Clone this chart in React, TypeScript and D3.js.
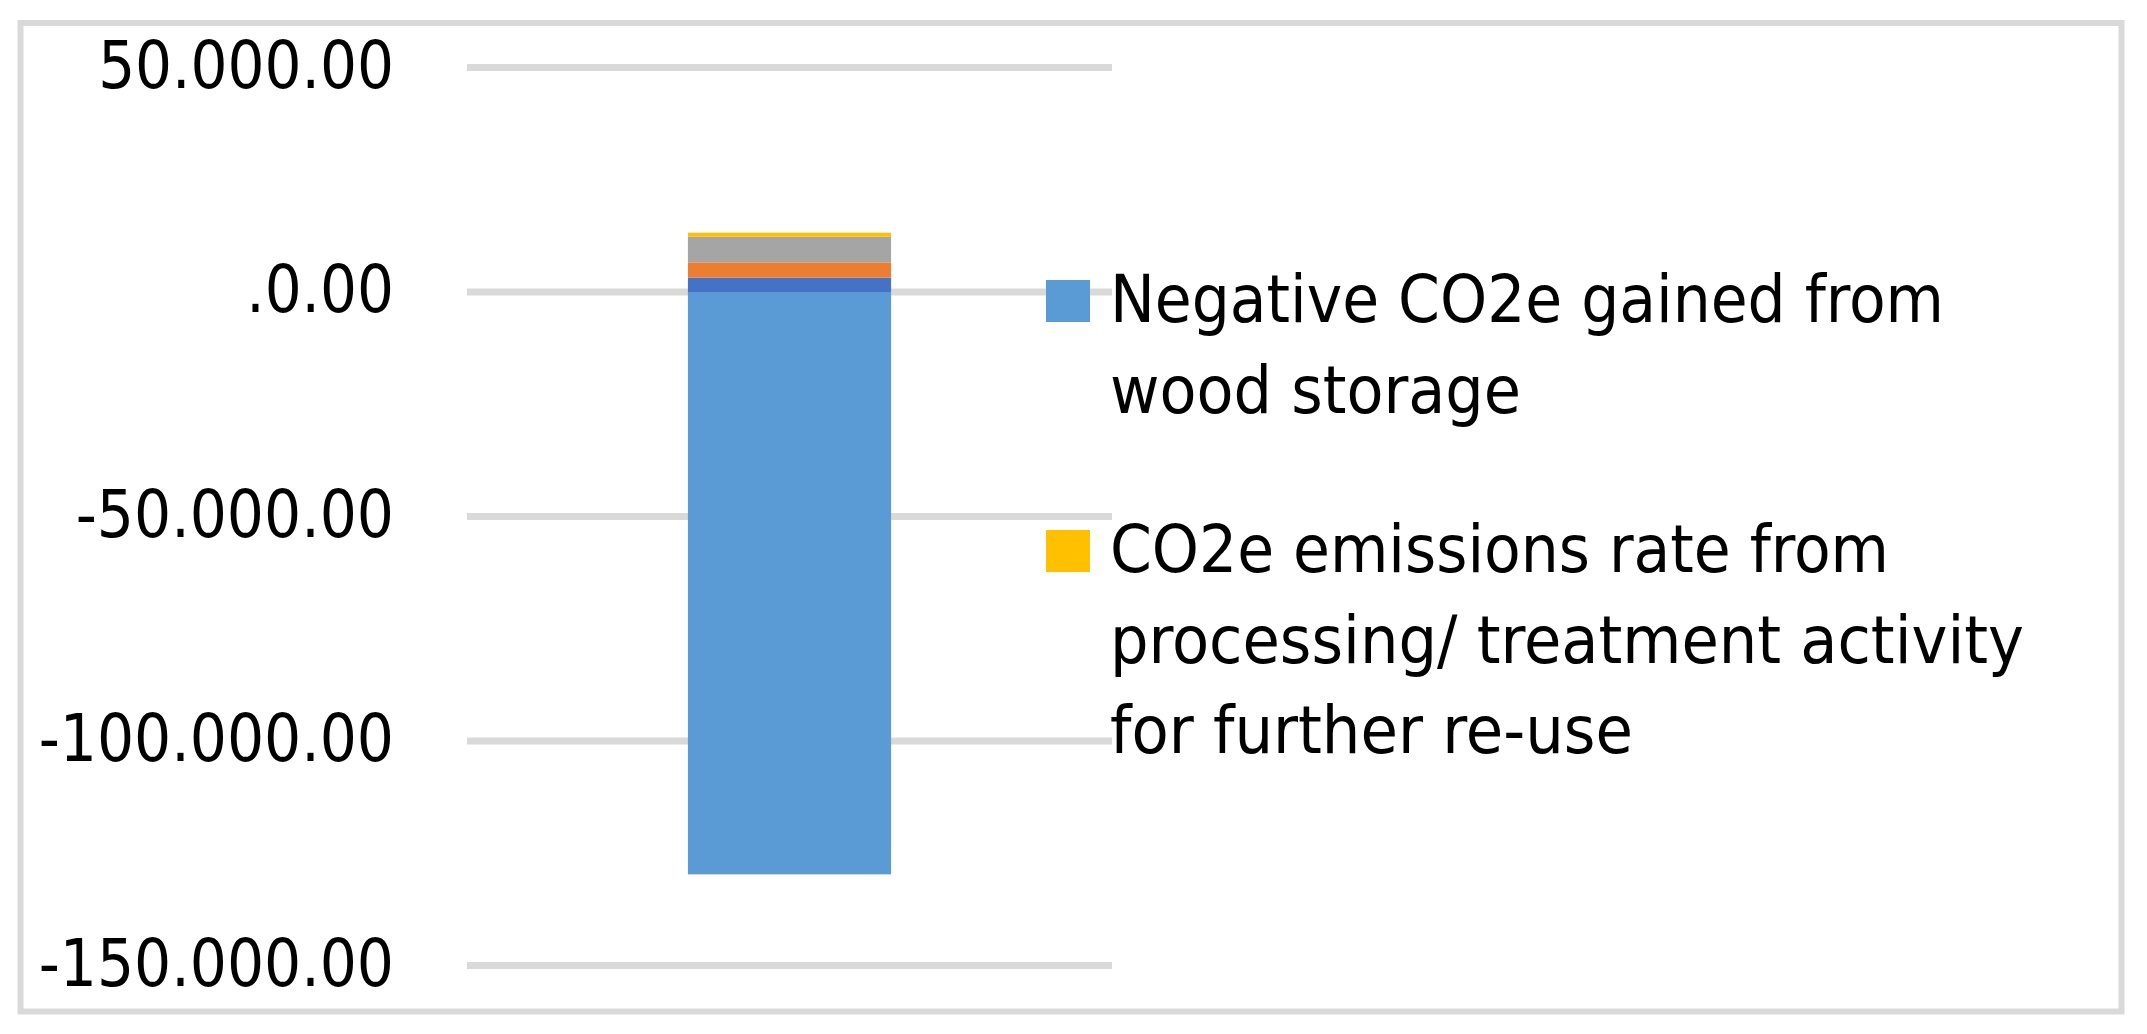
import React from "react";
import * as d3 from "d3";

// ---- data ----
const categories = ["Total"];
const seriesNames = [
  "Negative CO2e gained from wood storage",
  "Series 2",
  "Series 3",
  "Series 4",
  "CO2e emissions rate from processing/ treatment activity for further re-use",
];
const seriesValues = [-129700, 3200, 3400, 5700, 900];
const seriesColors = ["#5B9BD5", "#4472C4", "#ED7D31", "#A5A5A5", "#FFC000"];
const tickValues = [50000, 0, -50000, -100000, -150000];
const tickLabels = ["50.000.00", ".0.00", "-50.000.00", "-100.000.00", "-150.000.00"];
const legendItems = [
  { series: 0, lines: ["Negative CO2e gained from", "wood storage"] },
  { series: 4, lines: ["CO2e emissions rate from", "processing/ treatment activity", "for further re-use"] },
];

// ---- layout ----
const W = 2147;
const H = 1034;
const FONT = "'Liberation Sans Narrow', 'DejaVu Sans Condensed', 'Liberation Sans', sans-serif";
const FS = 66;
const legendWidths = [[834, 411], [779, 914, 523]];
const legendTop = [280, 530];
const lineGap = 90.5;

function calibriWidth(s: string, fs: number) {
  let w = 0;
  for (const c of s) {
    if (c >= "0" && c <= "9") w += 0.507;
    else if (c === ".") w += 0.252;
    else if (c === "-") w += 0.306;
    else w += 0.5;
  }
  return w * fs * 1.0 * 73 / fs;
}

export default function App() {
  const y = d3.scaleLinear().domain([-150000, 50000]).range([965.5, 67.5]);
  const x = d3.scaleBand().domain(categories).range([467, 1112]).paddingInner(0.685).paddingOuter(0.3425);

  // stack: positives up from 0, negatives down from 0
  let pos = 0;
  let neg = 0;
  const segs = seriesValues.map((v, i) => {
    let y0, y1;
    if (v >= 0) {
      y0 = pos;
      y1 = pos + v;
      pos = y1;
    } else {
      y0 = neg;
      y1 = neg + v;
      neg = y1;
    }
    return { i, y0, y1 };
  });

  const bx = 688;
  const bw = 203;
  const xb = x(categories[0]) ?? bx;
  const bandW = x.bandwidth();

  return (
    <svg width={W} height={H} style={{ position: "absolute", left: 0, top: 0, background: "#fff" }}>
      <rect x={0} y={0} width={W} height={H} fill="#fff" />
      {/* outer border */}
      <rect x={20.5} y={23} width={2101} height={988.5} fill="none" stroke="#d9d9d9" strokeWidth={6} />
      {/* gridlines */}
      {tickValues.map((t, i) => (
        <line key={"g" + i} x1={467} x2={1112} y1={y(t)} y2={y(t)} stroke="#d9d9d9" strokeWidth={7} />
      ))}
      {/* tick labels */}
      {tickValues.map((t, i) => (
        <text
          key={"t" + i}
          x={394}
          y={y(t) + 20}
          textAnchor="end"
          fontFamily={FONT}
          fontSize={FS}
          fill="#000"
          textLength={calibriWidth(tickLabels[i], FS)}
          lengthAdjust="spacingAndGlyphs"
        >
          {tickLabels[i]}
        </text>
      ))}
      {/* bars */}
      {segs.map((s) => (
        <rect
          key={"b" + s.i}
          x={Math.abs(xb - bx) < 30 ? xb : bx}
          width={Math.abs(bandW - bw) < 30 ? bandW : bw}
          y={Math.min(y(s.y0), y(s.y1))}
          height={Math.abs(y(s.y1) - y(s.y0))}
          fill={seriesColors[s.i]}
        />
      ))}
      {/* legend */}
      {legendItems.map((it, k) => (
        <g key={"l" + k}>
          <rect x={1046} y={legendTop[k]} width={44} height={42} fill={seriesColors[it.series]} />
          {it.lines.map((ln, j) => (
            <text
              key={j}
              x={1110}
              y={legendTop[k] + 42 + j * lineGap}
              fontFamily={FONT}
              fontSize={FS}
              fill="#000"
              textLength={legendWidths[k][j]}
              lengthAdjust="spacingAndGlyphs"
            >
              {ln}
            </text>
          ))}
        </g>
      ))}
    </svg>
  );
}
